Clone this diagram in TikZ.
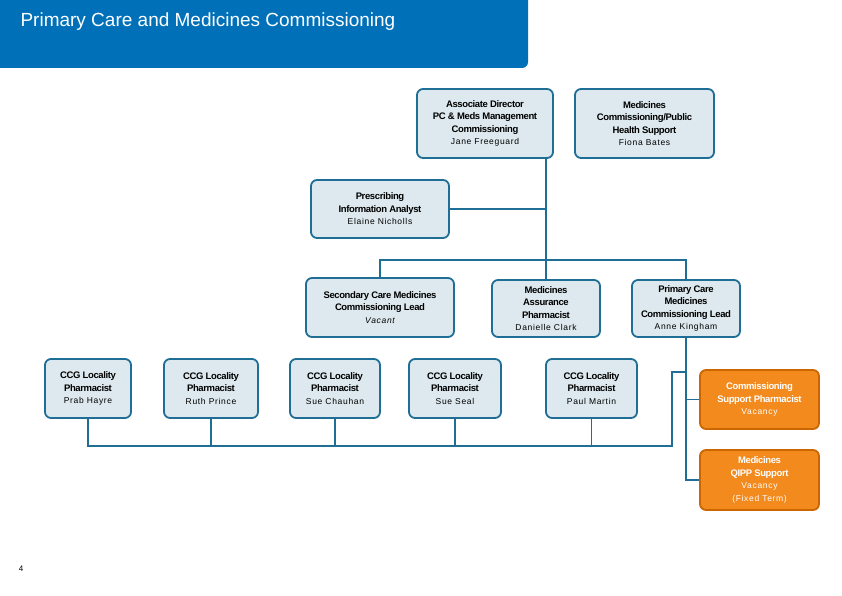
\documentclass[tikz,border=0pt]{standalone}
\usepackage{fontspec}
\setmainfont{Liberation Sans}
\newcommand{\nmf}{\fontsize{8.5}{11}\selectfont\mdseries\addfontfeatures{LetterSpace=8}}
\begin{document}
\begin{tikzpicture}[x=1pt,y=-1pt,
  bx/.style={draw=boxc,line width=1.8pt,fill=boxf,rounded corners=6pt,align=center,inner sep=0pt,font=\fontsize{9.5}{12.5}\selectfont\bfseries\addfontfeatures{LetterSpace=-4}},
  ob/.style={bx,draw=orange!80!black,fill=orgf,text=white},
  ln/.style={draw=boxc,line width=1.8pt}]
\definecolor{boxc}{HTML}{1F6E96}
\definecolor{boxf}{HTML}{DDE9EE}
\definecolor{orgf}{HTML}{F28A1E}
\definecolor{ttl}{HTML}{0070B8}
\useasboundingbox (0,0) rectangle (842,596);
\fill[ttl] (0,0) -- (528,0) -- (528,62) arc[start angle=0,end angle=90,radius=6] -- (0,68) -- cycle;
\node[anchor=west,text=white,font=\fontsize{19}{22}\selectfont] (title) at (17,22) {Primary Care and Medicines Commissioning};
\node[bx,minimum width=136,minimum height=69] (ad) at (485,123.5) {Associate Director\\PC \& Meds Management\\Commissioning\\{\nmf Jane Freeguard}};
\node[bx,minimum width=139,minimum height=69] (mc) at (644.5,123.5) {Medicines\\Commissioning/Public\\Health Support\\{\nmf Fiona Bates}};
\node[bx,minimum width=138,minimum height=58] (pia) at (380,209) {Prescribing\\Information Analyst\\{\nmf Elaine Nicholls}};
\node[bx,minimum width=148,minimum height=59] (scm) at (380,307.5) {Secondary Care Medicines\\Commissioning Lead\\{\nmf\itshape Vacant}};
\node[bx,minimum width=108,minimum height=57] (map) at (546,308.5) {Medicines\\Assurance\\Pharmacist\\{\nmf Danielle Clark}};
\node[bx,minimum width=108,minimum height=57] (pcm) at (686,308.5) {Primary Care\\Medicines\\Commissioning Lead\\{\nmf Anne Kingham}};
\foreach \n/\x/\w/\p in {c1/88/86/Prab Hayre,c2/211/94/Ruth Prince,c3/335/90/Sue Chauhan,c4/455/92/Sue Seal,c5/591.5/91/Paul Martin}
  \node[bx,minimum width=\w,minimum height=59] (\n) at (\x,388.5) {CCG Locality\\Pharmacist\\{\nmf \p}};
\node[ob,minimum width=119,minimum height=59] (csp) at (759.5,399.5) {Commissioning\\Support Pharmacist\\{\nmf Vacancy}};
\node[ob,minimum width=119,minimum height=60] (qipp) at (759.5,480) {Medicines\\QIPP Support\\{\nmf Vacancy}\\{\nmf (Fixed Term)}};
\node[font=\fontsize{8}{9}\selectfont] (pg) at (21,569) {4};
\coordinate (j1) at (546,209);
\coordinate (j2) at (546,260);
\draw[ln] (ad.south -| j1) -- (map.north);
\draw[ln] (pia.east) -- (j1);
\draw[ln] (scm.north) |- (j2) -| (pcm.north);
\coordinate (t1) at (686,372);
\coordinate (t2) at (672,372);
\coordinate (t3) at (686,399.5);
\draw[ln] (pcm.south) |- (qipp.west);
\draw[ln] (csp.west) -- (t3);
\draw[ln] (t1) -- (t2) -- (672,446) -- (88,446) -- (c1.south);
\draw[ln] (c2.south) -- (211,446);
\draw[ln] (c3.south) -- (335,446);
\draw[ln] (c4.south) -- (455,446);
\draw[ln] (c5.south) -- (591.5,446);
\end{tikzpicture}
\end{document}
